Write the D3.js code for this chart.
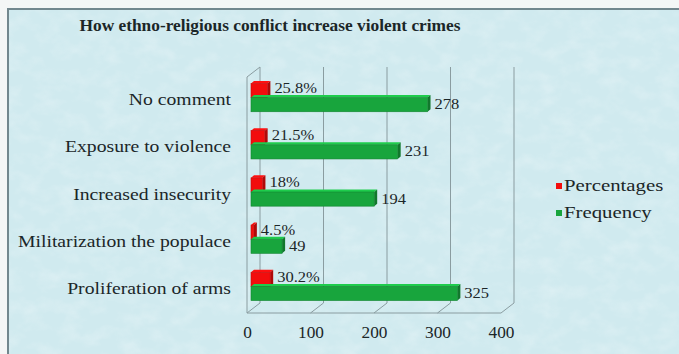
<!DOCTYPE html>
<html>
<head>
<meta charset="utf-8">
<script src="https://cdn.jsdelivr.net/npm/d3@7"></script>
<style>
  html, body { margin: 0; padding: 0; background: #f4f6f6; }
  svg { display: block; }
  text { font-family: "Liberation Serif", "Times New Roman", serif; fill: #1b2628; }
</style>
</head>
<body>
<svg id="chart" width="679" height="354"></svg>
<script>
// Survey responses: how ethno-religious conflict increases violent crimes
const categories = [
  "No comment",
  "Exposure to violence",
  "Increased insecurity",
  "Militarization the populace",
  "Proliferation of arms"
];
const frequency = [278, 231, 194, 49, 325];
const percentages = [25.8, 21.5, 18, 4.5, 30.2];
const percentLabels = ["25.8%", "21.5%", "18%", "4.5%", "30.2%"];
const xTicks = [0, 100, 200, 300, 400];
const seriesNames = ["Percentages", "Frequency"];
const seriesColors = ["#f20d0d", "#18a53d"];

const svg = d3.select("#chart");
const W = 679, H = 354;

// horizontally widened text, anchored at a given x
function widen(sel, ax, k) {
  sel.attr("transform", `translate(${ax},0) scale(${k},1) translate(${-ax},0)`);
}

// textured pale-cyan chart area
const defs = svg.append("defs");
const f = defs.append("filter").attr("id", "mottle")
  .attr("x", 0).attr("y", 0).attr("width", "100%").attr("height", "100%");
f.append("feTurbulence").attr("type", "fractalNoise")
  .attr("baseFrequency", "0.05 0.07").attr("numOctaves", 3).attr("seed", 7).attr("result", "n");
f.append("feColorMatrix").attr("in", "n").attr("type", "matrix")
  .attr("values", "0 0 0 0 1  0 0 0 0 1  0 0 0 0 1  1.2 0 0 0 -0.5");

svg.append("rect").attr("x", 8).attr("y", 9).attr("width", W).attr("height", H)
  .attr("fill", "#d0eaef").attr("stroke", "#72878e").attr("stroke-width", 2);
svg.append("rect").attr("x", 9).attr("y", 10).attr("width", W).attr("height", H)
  .attr("filter", "url(#mottle)").attr("opacity", 0.4);

// 3-D plot geometry: front plane and depth offset of the back wall
const depthX = 13, depthY = -10;
const plotTop = 77, plotBottom = 313;

const x = d3.scaleLinear().domain([0, 400]).range([247, 501]);
const y = d3.scaleBand().domain(categories).range([plotTop, plotBottom])
  .paddingInner(0.4).paddingOuter(0.2);
const ys = d3.scaleBand().domain(seriesNames).range([0, y.bandwidth()]);

const grid = svg.append("g").attr("stroke", "#8a9ca0").attr("stroke-width", 1).attr("fill", "none");
// back-wall gridlines
grid.selectAll("line.back").data(xTicks).join("line").attr("class", "back")
  .attr("x1", d => x(d) + depthX).attr("x2", d => x(d) + depthX)
  .attr("y1", plotTop + depthY).attr("y2", plotBottom + depthY);
// floor diagonals
grid.selectAll("line.floor").data(xTicks).join("line").attr("class", "floor")
  .attr("x1", d => x(d)).attr("x2", d => x(d) + depthX)
  .attr("y1", plotBottom).attr("y2", plotBottom + depthY);
// floor front edge and left wall
grid.append("line").attr("x1", x(0)).attr("x2", x(400)).attr("y1", plotBottom).attr("y2", plotBottom);
grid.append("line").attr("x1", x(0)).attr("x2", x(0)).attr("y1", plotTop).attr("y2", plotBottom);
grid.append("line").attr("x1", x(0)).attr("x2", x(0) + depthX).attr("y1", plotTop).attr("y2", plotTop + depthY);

// bars sit part-way into the depth of the plot
const barDX = 4, barDY = -3, barDepthX = 3, barDepthY = -2.5;

function box(g, v, yTop, h, color) {
  const c = d3.color(color);
  const x0 = x(0) + barDX, x1 = x(v) + barDX;
  const y0 = yTop + barDY, y1 = y0 + h;
  g.append("polygon")
    .attr("points", [[x0, y0], [x1, y0], [x1 + barDepthX, y0 + barDepthY], [x0 + barDepthX, y0 + barDepthY]].join(" "))
    .attr("fill", c.brighter(0.6));
  g.append("polygon")
    .attr("points", [[x1, y0], [x1 + barDepthX, y0 + barDepthY], [x1 + barDepthX, y1 + barDepthY], [x1, y1]].join(" "))
    .attr("fill", c.darker(0.9));
  g.append("rect").attr("x", x0).attr("y", y0).attr("width", Math.max(0, x1 - x0)).attr("height", h)
    .attr("fill", c).attr("stroke", c.darker(0.6)).attr("stroke-width", 0.6);
  return x1 + barDepthX;
}

const bars = svg.append("g");
const labels = svg.append("g").style("font-size", "15px");
categories.forEach((cat, i) => {
  const g = bars.append("g");
  const hR = ys.bandwidth();
  const endR = box(g, percentages[i], y(cat) + ys("Percentages"), hR, seriesColors[0]);
  const endG = box(g, frequency[i], y(cat) + ys("Frequency"), hR, seriesColors[1]);
  labels.append("text").attr("x", endR + 4).attr("y", y(cat) + ys("Percentages") + barDY + hR / 2 - 1)
    .attr("dominant-baseline", "middle")
    .call(widen, endR + 4, 1.1)
    .text(percentLabels[i]);
  labels.append("text").attr("x", endG + 4).attr("y", y(cat) + ys("Frequency") + barDY + hR / 2 + 1)
    .attr("dominant-baseline", "middle")
    .call(widen, endG + 4, 1.1)
    .text(frequency[i]);
});

// category labels
const catG = svg.append("g").style("font-size", "16px");
catG.selectAll("text").data(categories).join("text")
  .attr("x", 231).attr("y", d => y(d) + y.bandwidth() / 2 + 1)
  .attr("text-anchor", "end").attr("dominant-baseline", "middle")
  .call(widen, 231, 1.23)
  .text(d => d);

// value axis
const axis = d3.axisBottom(x).tickValues(xTicks).tickSize(0).tickPadding(14);
const ax = svg.append("g").attr("transform", `translate(0,${plotBottom})`).call(axis);
ax.select(".domain").remove();
ax.selectAll("text").style("font-size", "16px").style("font-family", "Liberation Serif, serif")
  .attr("fill", "#1b2628")
  .attr("transform", "scale(1.08,1)")
  .attr("x", 0);

// title
svg.append("text").attr("x", 270).attr("y", 31).attr("text-anchor", "middle")
  .style("font-size", "17px").style("font-weight", "bold")
  .call(widen, 270, 1.02)
  .text("How ethno-religious conflict increase violent crimes");

// legend
const leg = svg.append("g").style("font-size", "16px");
seriesNames.forEach((s, i) => {
  const ly = 186 + i * 27;
  leg.append("rect").attr("x", 556).attr("y", ly - 3).attr("width", 6).attr("height", 6).attr("fill", seriesColors[i]);
  leg.append("text").attr("x", 564).attr("y", ly + 1).attr("dominant-baseline", "middle")
    .call(widen, 564, 1.3)
    .text(s);
});
</script>
</body>
</html>
